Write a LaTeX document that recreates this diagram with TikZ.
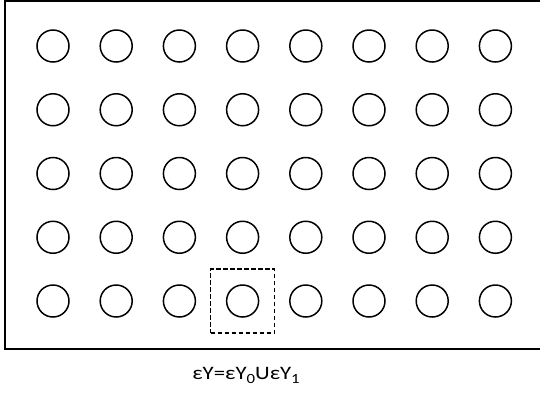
\documentclass[tikz,border=0pt]{standalone}
\usepackage{fontspec}
\setmainfont{Carlito}
\begin{document}
\begin{tikzpicture}[x=1pt,y=-1pt,
  dot/.style={circle,draw=black,line width=1.5pt,minimum size=32pt,inner sep=0pt},
  selbox/.style={rectangle,draw=black,line width=1.2pt,dash pattern=on 4.5pt off 2.5pt,minimum size=64pt,inner sep=0pt},
  frame/.style={draw=black,line width=1.6pt}]
\useasboundingbox (0,0) rectangle (540,392);
\draw[frame] (5,1) rectangle (543,349);
\foreach \i in {1,...,5}{
  \foreach \j in {1,...,8}{
    \node[dot] (c-\i-\j) at ({53+63.2*(\j-1)},{46+63.75*(\i-1)}) {};
  }
}
\node[selbox] (sel) at (c-5-4.center) {};
\node[anchor=base,inner sep=0pt,font=\fontsize{19}{23}\selectfont,xscale=1.2,transform shape] (lbl) at (246,379)
  {εY=εY\raisebox{-0.25em}{\fontsize{14}{16}\selectfont 0}UεY\raisebox{-0.25em}{\fontsize{14}{16}\selectfont 1}};
\end{tikzpicture}
\end{document}
